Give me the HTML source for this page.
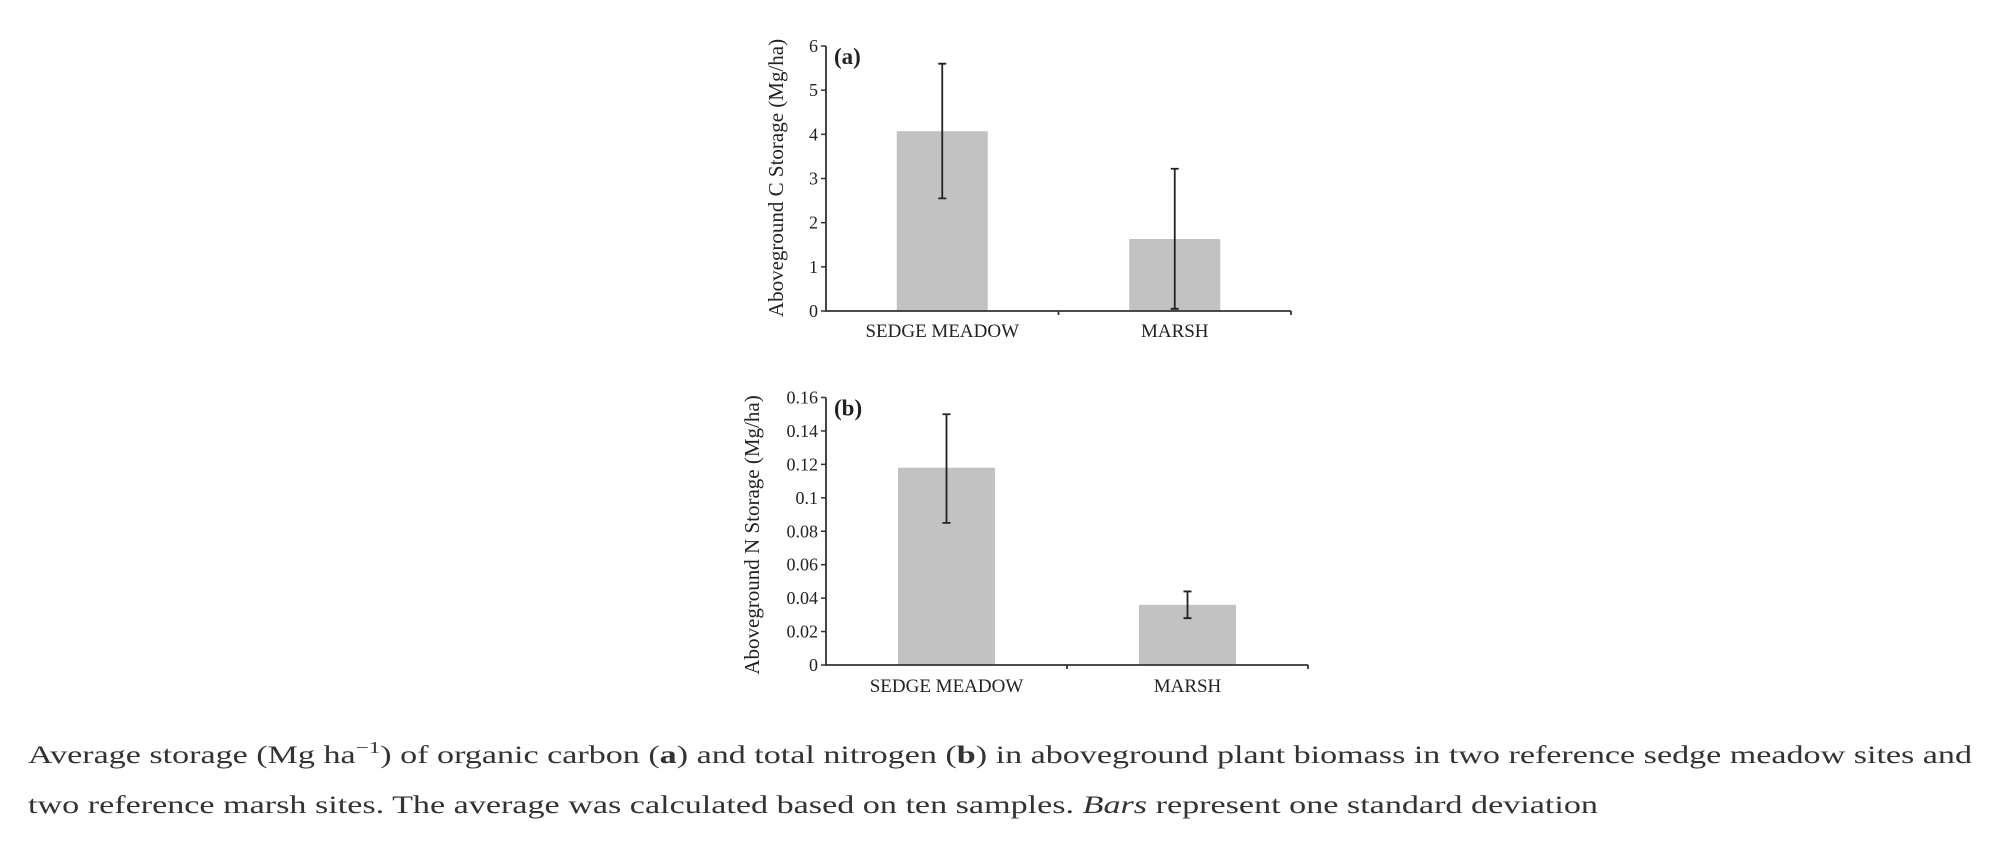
<!DOCTYPE html>
<html><head><meta charset="utf-8"><style>
body{margin:0;background:#fff;width:1998px;height:840px;overflow:hidden}
svg text{font-family:"Liberation Serif",serif;fill:#222}
</style></head><body>
<svg id="svg" width="1998" height="840" viewBox="0 0 1998 840" xmlns="http://www.w3.org/2000/svg">
<g id="ca"></g>
<g id="cb"></g>
<text x="28" y="763" font-size="25" textLength="1944" lengthAdjust="spacingAndGlyphs" style="font-family:'Liberation Serif',serif;fill:#333">Average storage (Mg ha<tspan dy="-10" font-size="17">−1</tspan><tspan dy="10">) of organic carbon (</tspan><tspan font-weight="bold">a</tspan>) and total nitrogen (<tspan font-weight="bold">b</tspan>) in aboveground plant biomass in two reference sedge meadow sites and</text>
<text x="28" y="813" font-size="25" textLength="1570" lengthAdjust="spacingAndGlyphs" style="font-family:'Liberation Serif',serif;fill:#333">two reference marsh sites. The average was calculated based on ten samples. <tspan font-style="italic">Bars</tspan> represent one standard deviation</text>
</svg>
<script>
const categories = ["SEDGE MEADOW", "MARSH"];
const carbonValues = [4.07, 1.63];
const carbonLow = [2.55, 0.05];
const carbonHigh = [5.6, 3.22];
const carbonTicks = ["0","1","2","3","4","5","6"];
const nitrogenValues = [0.118, 0.036];
const nitrogenLow = [0.085, 0.028];
const nitrogenHigh = [0.150, 0.044];
const nitrogenTicks = ["0","0.02","0.04","0.06","0.08","0.1","0.12","0.14","0.16"];

const NS = "http://www.w3.org/2000/svg";
function mk(parent, tag, attrs, text){
  const e = document.createElementNS(NS, tag);
  for (const k in attrs) e.setAttribute(k, attrs[k]);
  if (text !== undefined) e.textContent = text;
  parent.appendChild(e);
  return e;
}
function draw(g, cfg, vals, lo, hi, ticks){
  const yMax = parseFloat(ticks[ticks.length-1]);
  const y = v => cfg.y0 - (v / yMax) * (cfg.y0 - cfg.yTop);
  const band = (cfg.xEnd - cfg.x0) / categories.length;
  const xc = i => cfg.x0 + band * (i + 0.5);
  vals.forEach((v, i) => {
    const r = mk(g, "rect", {x: xc(i) - cfg.bw/2, y: y(v), width: cfg.bw, height: cfg.y0 - y(v), fill: "#c2c2c2"});
    
    
    const eb = mk(g, "path", {d: `M${xc(i)} ${y(hi[i])}V${y(lo[i])}M${xc(i)-4} ${y(hi[i])}h8M${xc(i)-4} ${y(lo[i])}h8`, stroke: "#222", "stroke-width": 1.8, fill: "none"});
    
    
    const t = mk(g, "text", {x: xc(i), y: cfg.labY, "text-anchor": "middle", "font-size": 19}, categories[i]);
    
    
  });
  const ax = mk(g, "path", {d: `M${cfg.x0} ${cfg.yTop}V${cfg.y0}H${cfg.xEnd}M${cfg.x0 + band} ${cfg.y0}v4M${cfg.xEnd} ${cfg.y0}v4`, stroke: "#333", "stroke-width": 1.8, fill: "none"});
  
  
  ticks.forEach(tk => {
    const yy = y(parseFloat(tk));
    mk(g, "path", {d: `M${cfg.x0 - 5} ${yy}H${cfg.x0}`, stroke: "#333", "stroke-width": 1.5});
    const t = mk(g, "text", {x: cfg.x0 - 8, y: yy + 6, "text-anchor": "end", "font-size": 18}, tk);
    
    
  });
  const tt = mk(g, "text", {transform: `translate(${cfg.titleX},${cfg.titleY}) rotate(-90)`, "text-anchor": "middle", "font-size": 21}, cfg.title);
  
  
  const pl = mk(g, "text", {x: cfg.x0 + 8, y: cfg.yTop + 18, "font-size": 23, "font-weight": "bold"}, cfg.panel);
  
  
}
draw(document.getElementById("ca"),
  {x0: 826, xEnd: 1291, y0: 311, yTop: 46, bw: 91, labY: 337, titleX: 783, titleY: 178, title: "Aboveground C Storage (Mg/ha)", panel: "(a)"},
  carbonValues, carbonLow, carbonHigh, carbonTicks);
draw(document.getElementById("cb"),
  {x0: 826, xEnd: 1308, y0: 665, yTop: 397.5, bw: 97, labY: 692, titleX: 759, titleY: 535, title: "Aboveground N Storage (Mg/ha)", panel: "(b)"},
  nitrogenValues, nitrogenLow, nitrogenHigh, nitrogenTicks);
</script>
</body></html>
